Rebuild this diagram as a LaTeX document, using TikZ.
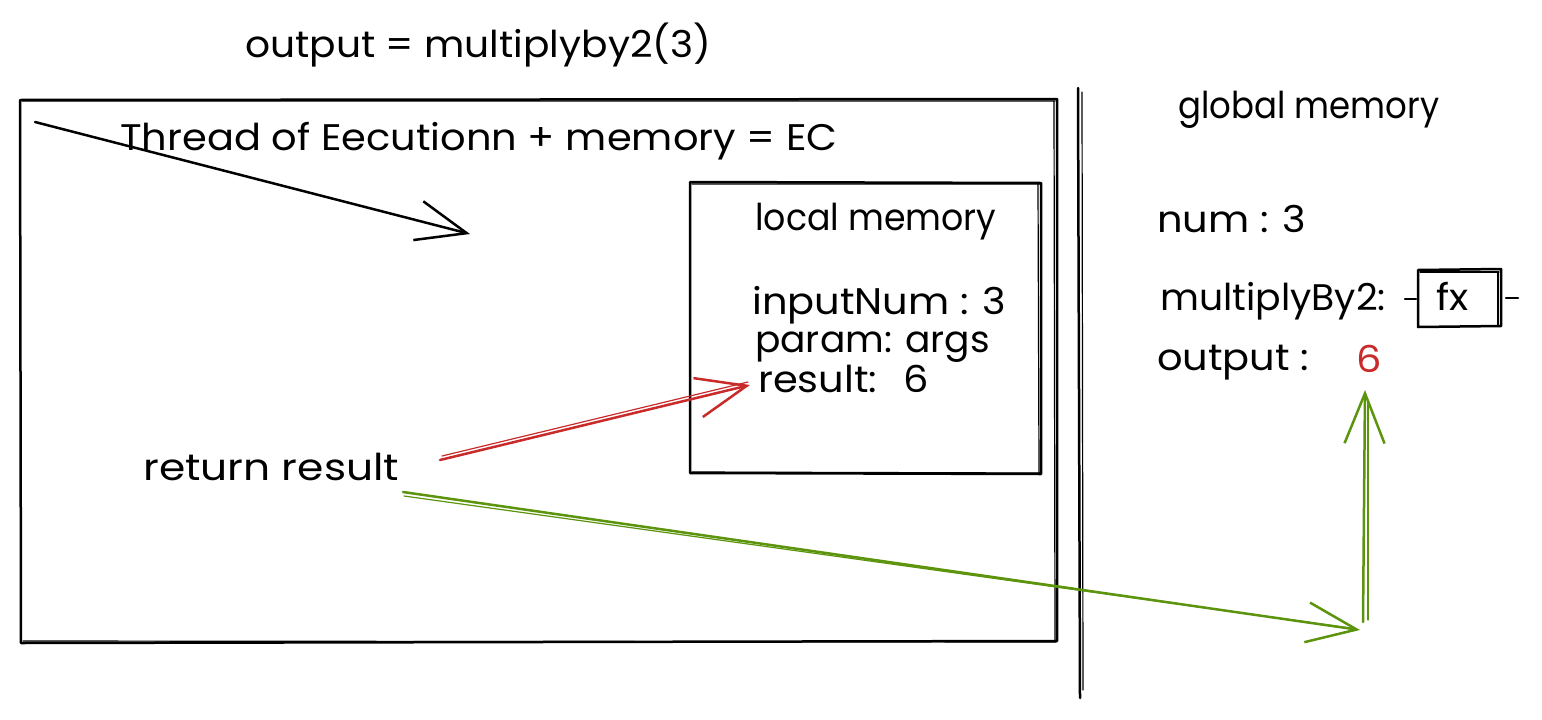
\documentclass[tikz,border=0pt]{standalone}
\usepackage{fontspec}
\usepackage{graphicx}
\setmainfont{Poppins}[FakeStretch=1.08]
\usetikzlibrary{arrows.meta}
\definecolor{sred}{HTML}{C92A2A}
\definecolor{sgreen}{HTML}{5C940D}
\begin{document}
\begin{tikzpicture}[x=1pt,y=-1pt,
  txt/.style={font=\fontsize{37}{44}\selectfont, inner sep=0pt, anchor=base west},
  ln/.style={line width=2.5pt, line cap=round, line join=round},
  thn/.style={line width=1.2pt, line cap=round},
  barb/.style={-{Straight Barb[length=50pt,width=40pt,line width=2.5pt]}}
]
\useasboundingbox (0,0) rectangle (1542,720);
% texts
\node[txt] (title) at (245,57) {\scalebox{0.98}[1]{output = multiplyby2(3)}};
\node[txt] (thread) at (120,150) {Thread of Eecutionn + memory = EC};
\node[txt] (localt) at (755,230) {\scalebox{0.87}[1]{local memory}};
\node[txt] (inp) at (752,314) {inputNum : 3};
\node[txt] (param) at (755,352) {\scalebox{0.94}[1]{param: args}};
\node[txt] (res) at (758,392) {result:\hspace{26pt}6};
\node[txt] (ret) at (143,480) {\scalebox{1.06}[1]{return result}};
\node[txt] (globt) at (1178,118) {\scalebox{0.85}[1]{global memory}};
\node[txt] (num) at (1157,232) {num : 3};
\node[txt] (mult) at (1160,310) {\scalebox{0.945}[1]{multiplyBy2:}};
\node[txt] (fx) at (1436,310) {fx};
\node[txt] (outl) at (1157,370) {output :};
\node[txt, text=sred] (six) at (1356,372) {6};
% outer box (sketchy)
\draw[ln] (20,100) -- (1057,99) -- (1057,641) -- (21,643) -- cycle;
\draw[thn] (22,101) -- (1055,101) (1054,102) -- (1055,640) (23,641) -- (1056,642);
% local memory box
\draw[ln] (690,182) -- (1041,183) -- (1041,474) -- (690,473) -- cycle;
\draw[thn] (692,184) -- (1040,184) (1038,185) -- (1039,472) (692,472) -- (1040,473);
% separator
\draw[ln] (1078,88) -- (1080,698);
\draw[thn] (1082,92) -- (1083,690);
% fx box
\draw[ln] (1418,270) -- (1501,269) -- (1501,326) -- (1418,327) -- cycle;
\draw[thn] (1420,272) -- (1499,272) (1498,272) -- (1498,325);
\draw[ln] (1405,299) -- (1416,299) (1506,298) -- (1518,298);
% black arrow
\coordinate (bs) at (35,122);
\coordinate (be) at (470,234);
\draw[ln, barb] (bs) -- (be);
% red arrow
\coordinate (rs) at (440,460);
\coordinate (re) at (750,385);
\draw[ln, sred, barb] (rs) -- (re);
\draw[thn, sred] (442,456) -- (748,382);
% green arrows
\coordinate (gs) at (403,492);
\coordinate (gc) at (1360,630);
\coordinate (gt) at (1365,390);
\draw[ln, sgreen, barb] (gs) -- (gc);
\draw[thn, sgreen] (404,496) -- (1350,628);
\draw[ln, sgreen, barb] (1363,622) -- (gt);
\draw[thn, sgreen] (1368,620) -- (1368,400);
\end{tikzpicture}
\end{document}
